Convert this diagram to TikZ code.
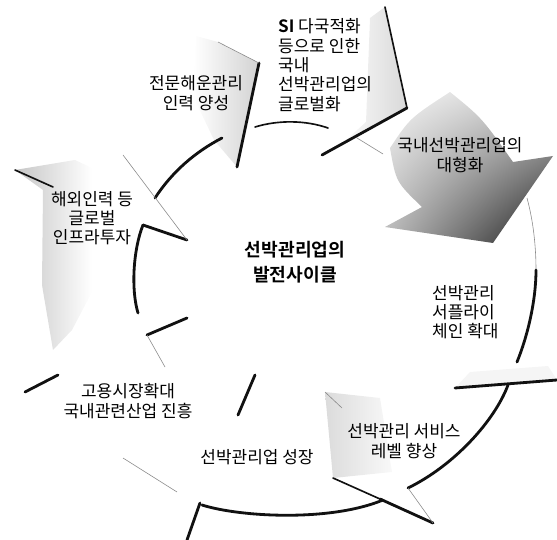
\documentclass[tikz,border=0pt]{standalone}
\usepackage{fontspec}
\newfontfamily\krfont{Noto Sans CJK KR}[BoldFont={Noto Sans CJK KR Bold}]
\usetikzlibrary{calc,shadings}
\definecolor{cyencre}{HTML}{111111}
\definecolor{cygris}{HTML}{8A8A8A}

\begin{document}
\begin{tikzpicture}[x=0.03cm,y=-0.03cm,font=\krfont\fontsize{14.5}{16.5}\selectfont,
  trait/.style={cyencre,line width=2.4pt,line cap=round},
  mitrait/.style={cyencre,line width=1.4pt,line cap=round},
  fin/.style={cygris,line width=0.5pt}]
  \useasboundingbox (0,0) rectangle (557,540);
  % trames
  \shade[left color=white,right color=gray!35] (196,36) -- (218,42) -- (259,63) -- (237,167) -- (214,140) -- (193,96) -- cycle;
  \shade[left color=white,right color=gray!30] (370,18) -- (385,7) -- (407,108) -- (335,150) -- (366,122) -- cycle;
  \shade[upper left=gray!8,upper right=gray!40,lower left=gray!55,lower right=black!90]
    (450,92) .. controls (482,118) .. (513,162) -- (553,156) -- (493,243) -- (385,227) -- (422,207) .. controls (396,182) .. (390,148) .. controls (410,118) .. cycle;
  \fill[gray!8] (455,388) -- (557,380) -- (548,366) -- (470,372) -- cycle;
  \shade[left color=gray!28,right color=gray!5] (325,392) -- (380,398) -- (392,472) -- (333,478) -- cycle;
  \shade[left color=gray!45,right color=white] (15,170) -- (75,160) -- (92,168) -- (92,292) -- (72,330) -- (53,350) -- (42,285) -- (43,190) -- cycle;
  % arcs
  \draw[trait] (143,225) .. controls (133,250) and (131,290) .. (138,313);
  \draw[trait] (155,198) .. controls (172,172) and (195,152) .. (222,138);
  \draw[mitrait] (255,127) .. controls (278,120) and (305,120) .. (328,128);
  \draw[fin] (357,138) -- (383,154);
  \draw[fin] (527,198) .. controls (533,220) and (536,245) .. (536,270);
  \draw[trait] (536,270) .. controls (536,300) and (528,335) .. (517,362);
  \draw[trait] (508,385) .. controls (495,420) and (455,465) .. (408,488);
  \draw[trait] (202,505) .. controls (240,517) and (330,522) .. (383,500);
  % traits
  \foreach \xa/\ya/\xb/\yb in {259/63/237/167, 407/108/322/155, 455/388/557/380, 380/499/433/523,
      200/503/187/540, 255/375/238/415, 25/392/58/375, 147/335/187/318, 143/225/187/240}
    \draw[trait] (\xa,\ya) -- (\xb,\yb);
  \foreach \xa/\ya/\xb/\yb in {385/7/407/108, 15/170/53/187, 333/478/380/499}
    \draw[mitrait] (\xa,\ya) -- (\xb,\yb);
  \foreach \xa/\ya/\xb/\yb in {218/42/259/63, 433/523/408/488, 325/392/342/408,
      123/458/177/492, 147/335/165/367, 123/155/187/240}
    \draw[fin] (\xa,\ya) -- (\xb,\yb);
  % textes
  \node[align=center,inner sep=0] (rh) at (196,93) {전문해운관리\\인력 양성};
  \node[align=left,anchor=west,inner sep=0] (si) at (278,65) {\textbf{SI} 다국적화\\등으로 인한\\국내\\선박관리업의\\글로벌화};
  \node[align=center,inner sep=0] (dh) at (460,155) {국내선박관리업의\\대형화};
  \node[align=left,anchor=west,inner sep=0] (sc) at (432,312) {선박관리\\서플라이\\체인 확대};
  \node[align=center,inner sep=0] (sv) at (404,441) {선박관리 서비스\\레벨 향상};
  \node[inner sep=0] (sj) at (257,457) {선박관리업 성장};
  \node[align=center,inner sep=0] (gy) at (128,401) {고용시장확대\\국내관련산업 진흥};
  \node[align=center,inner sep=0] (hw) at (92,218) {해외인력 등\\글로벌\\인프라투자};
  \node[align=center,inner sep=0,font=\krfont\fontsize{15.5}{21}\selectfont\bfseries] (ti) at (295,262) {선박관리업의\\발전사이클};
\end{tikzpicture}
\end{document}
